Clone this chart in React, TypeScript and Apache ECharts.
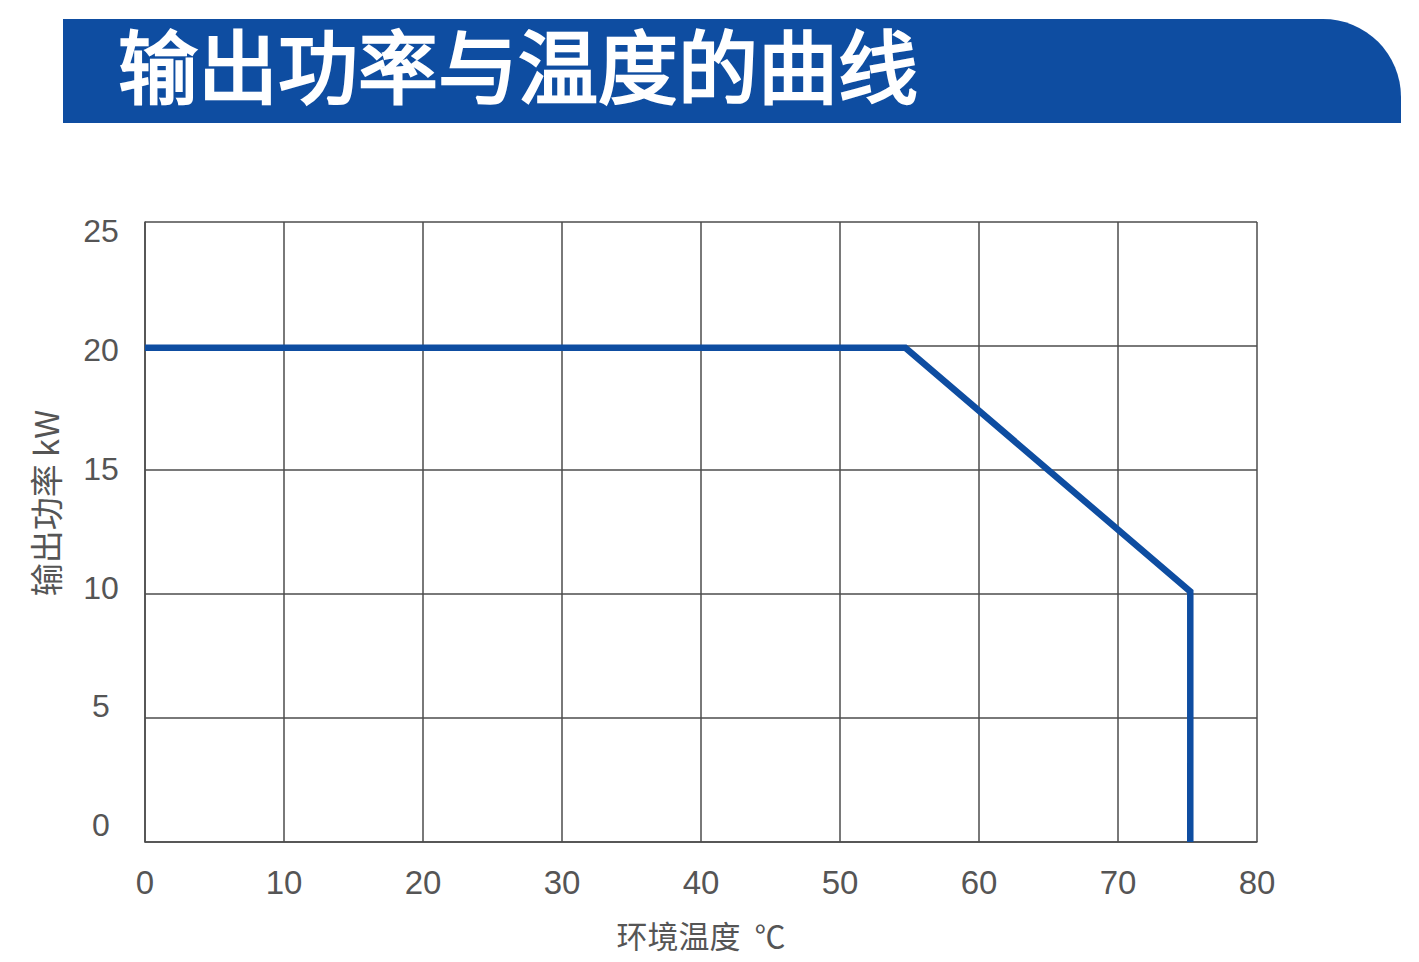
import React, { useEffect, useRef } from "react";
import * as echarts from "echarts";

const titleText = "输出功率与温度的曲线";
const xName = "环境温度  ℃";
const yName = "输出功率 kW";
const xTicks = [0, 10, 20, 30, 40, 50, 60, 70, 80];
const yTicks = [0, 5, 10, 15, 20, 25];
const temperature = [0, 54.7, 75.2, 75.2];
const power = [19.93, 19.93, 10.1, 0];

const BLUE = "#0e4da1";
const GRID = "#4d4d4d";
const TEXT = "#555555";

export default function App() {
  const ref = useRef<HTMLDivElement>(null);
  useEffect(() => {
    if (!ref.current) return;
    const chart = echarts.init(ref.current, null, { renderer: "svg" });
    chart.setOption({
      animation: false,
      backgroundColor: "#ffffff",
      title: {
        text: titleText,
        left: 113,
        top: 17,
        textStyle: {
          color: "#ffffff",
          fontSize: 80,
          fontWeight: "normal",
          fontFamily: "Noto Sans CJK SC",
          textBorderColor: "#ffffff",
          textBorderWidth: 2.5,
        },
      },
      graphic: [
        {
          type: "rect",
          z: -1,
          shape: { x: 63, y: 19, width: 1338, height: 104, r: [0, 78, 0, 0] },
          style: { fill: BLUE },
        },
      ],
      grid: {
        left: 145,
        top: 222,
        right: 162,
        bottom: 120,
        containLabel: false,
        outerBoundsMode: "none",
      },
      xAxis: {
        type: "value",
        min: xTicks[0],
        max: xTicks[xTicks.length - 1],
        interval: 10,
        name: xName,
        nameLocation: "middle",
        nameGap: 77,
        nameTextStyle: { fontSize: 31, color: TEXT, fontFamily: "Noto Sans CJK SC" },
        axisLine: { show: true, lineStyle: { color: GRID, width: 1.5 } },
        axisTick: { show: false },
        axisLabel: {
          margin: 24,
          fontSize: 33,
          color: TEXT,
          fontFamily: "Liberation Sans",
        },
        splitLine: { show: true, lineStyle: { color: GRID, width: 1.5 } },
      },
      yAxis: [
        {
          type: "value",
          min: yTicks[0],
          max: yTicks[yTicks.length - 1],
          interval: 5,
          name: yName,
          nameLocation: "middle",
          nameGap: 84,
          nameTextStyle: {
            fontSize: 33,
            color: TEXT,
            fontFamily: "Noto Sans CJK SC",
            padding: [0, 0, 0, 58],
          },
          axisLine: { show: true, lineStyle: { color: GRID, width: 1.5 } },
          axisTick: { show: false },
          axisLabel: { show: false },
          splitLine: { show: true, lineStyle: { color: GRID, width: 1.5 } },
        },
        {
          type: "value",
          position: "left",
          min: -0.716,
          max: 25.4,
          axisLine: { show: false },
          axisTick: { show: false },
          splitLine: { show: false },
          axisLabel: {
            customValues: yTicks,
            align: "center",
            margin: 44,
            fontSize: 32,
            color: TEXT,
            fontFamily: "Liberation Sans",
          },
        },
      ],
      series: [
        {
          type: "line",
          yAxisIndex: 0,
          data: temperature.map((t, i) => [t, power[i]]),
          symbol: "none",
          lineStyle: { color: BLUE, width: 6.5, cap: "butt", join: "miter" },
          z: 5,
        },
      ],
    });
    return () => chart.dispose();
  }, []);
  return (
    <div
      ref={ref}
      style={{ position: "absolute", left: 0, top: 0, width: 1419, height: 962 }}
    />
  );
}
